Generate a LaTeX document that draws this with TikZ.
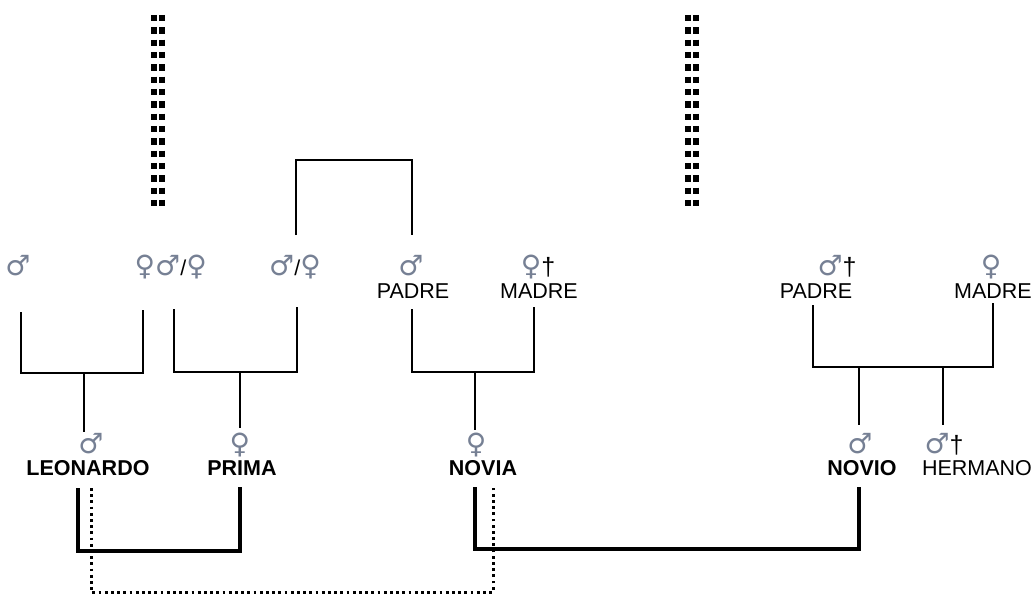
\documentclass[tikz,border=0pt]{standalone}
\usepackage{fontspec}
\setmainfont{Liberation Sans}
\newfontfamily\symf{DejaVu Sans}
\definecolor{symc}{RGB}{118,128,148}
\newcommand{\mydg}{\textcolor{black}{\rmfamily\fontsize{25}{25}\selectfont\dag}}
\newcommand{\myslash}{\textcolor{black}{\rmfamily\fontsize{21.5}{22}\selectfont/}}
\begin{document}
\begin{tikzpicture}[x=1pt,y=-1pt,
  sym/.style={font=\symf\fontsize{28}{28}\selectfont, text=symc, inner sep=0pt, anchor=base},
  nm/.style={font=\fontsize{21.5}{22}\selectfont, inner sep=0pt, anchor=base},
  hero/.style={font=\bfseries\fontsize{21.5}{22}\selectfont, inner sep=0pt, anchor=base},
  kin/.style={line width=1.8pt, line join=miter},
  marr/.style={line width=4.5pt, line join=miter},
  affair/.style={line width=3pt, dash pattern=on 2.8pt off 3.4pt},
  anc/.style={line width=6pt, dash pattern=on 6.3pt off 6.03pt}]
\useasboundingbox (0,0) rectangle (1033,596);
% top row
\node[sym] (s1) at (18,275) {♂};
\node[sym] (s2) at (145,275) {♀};
\node[sym] (s3) at (181,275) {♂\myslash♀};
\node[sym] (s4) at (295,275) {♂\myslash♀};
\node[sym] (s5) at (411,275) {♂};
\node[nm] (padreA) at (413,298) {PADRE};
\node[sym] (s6) at (538,275) {♀\mydg};
\node[nm] (madreA) at (539,298) {MADRE};
\node[sym] (s7) at (837,275) {♂\mydg};
\node[nm] (padreB) at (816,298) {PADRE};
\node[sym] (s8) at (991,275) {♀};
\node[nm] (madreB) at (993,298) {MADRE};
% children
\node[sym] (cl) at (91,453) {♂};
\node[hero] (leo) at (88,475) {LEONARDO};
\node[sym] (cp) at (240,453) {♀};
\node[hero] (prima) at (242,475) {PRIMA};
\node[sym] (cn) at (476,453) {♀};
\node[hero] (novia) at (483,475) {NOVIA};
\node[sym] (cv) at (860,453) {♂};
\node[hero] (novio) at (862,475) {NOVIO};
\node[sym] (ch) at (944,453) {♂\mydg};
\node[nm] (herm) at (977,475) {HERMANO};
% coordinates
\coordinate (t1) at (296,235); \coordinate (t2) at (296,160);
\coordinate (t3) at (412,160); \coordinate (t4) at (412,235);
\coordinate (a1) at (21,312); \coordinate (a2) at (21,373);
\coordinate (a3) at (143,373); \coordinate (a4) at (143,310);
\coordinate (a5) at (84,373); \coordinate (a6) at (84,432);
\coordinate (b1) at (174,309); \coordinate (b2) at (174,372);
\coordinate (b3) at (297,372); \coordinate (b4) at (297,307);
\coordinate (b5) at (240,372); \coordinate (b6) at (240,428);
\coordinate (c1) at (412,309); \coordinate (c2) at (412,372);
\coordinate (c3) at (534,372); \coordinate (c4) at (534,307);
\coordinate (c5) at (475,372); \coordinate (c6) at (475,430);
\coordinate (d1) at (813,305); \coordinate (d2) at (813,367);
\coordinate (d3) at (993,367); \coordinate (d4) at (993,303);
\coordinate (d5) at (859,367); \coordinate (d6) at (859,425);
\coordinate (d7) at (943,367); \coordinate (d8) at (943,425);
\coordinate (m1) at (78,488); \coordinate (m2) at (78,551);
\coordinate (m3) at (240,551); \coordinate (m4) at (240,487);
\coordinate (n1) at (475,487); \coordinate (n2) at (475,549);
\coordinate (n3) at (859,549); \coordinate (n4) at (859,487);
\coordinate (f1) at (91,488); \coordinate (f2) at (91,592);
\coordinate (f3) at (493,592); \coordinate (f4) at (493,488);
\coordinate (v1) at (154,15); \coordinate (v2) at (154,207);
\coordinate (v3) at (162,15); \coordinate (v4) at (162,207);
\coordinate (w1) at (687.5,15); \coordinate (w2) at (687.5,207);
\coordinate (w3) at (695.5,15); \coordinate (w4) at (695.5,207);
% lines
\draw[kin] (t1) -- (t2) -- (t3) -- (t4);
\draw[kin] (a1) -- (a2) -- (a3) -- (a4); \draw[kin] (a5) -- (a6);
\draw[kin] (b1) -- (b2) -- (b3) -- (b4); \draw[kin] (b5) -- (b6);
\draw[kin] (c1) -- (c2) -- (c3) -- (c4); \draw[kin] (c5) -- (c6);
\draw[kin] (d1) -- (d2) -- (d3) -- (d4); \draw[kin] (d5) -- (d6); \draw[kin] (d7) -- (d8);
\draw[marr] (m1) -- (m2) -- (m3) -- (m4);
\draw[marr] (n1) -- (n2) -- (n3) -- (n4);
\draw[affair] (f1) -- (f2) -- (f3) -- (f4);
\draw[anc] (v1) -- (v2); \draw[anc] (v3) -- (v4);
\draw[anc] (w1) -- (w2); \draw[anc] (w3) -- (w4);
\end{tikzpicture}
\end{document}
